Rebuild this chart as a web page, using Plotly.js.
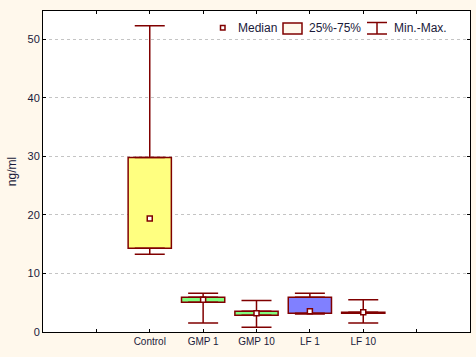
<!DOCTYPE html>
<html>
<head>
<meta charset="utf-8">
<script src="https://cdn.plot.ly/plotly-3.0.1.min.js"></script>
<style>html,body{margin:0;padding:0;background:#fff8ec;}#chart{width:476px;height:357px;}</style>
</head>
<body>
<div id="chart"></div>
<script>
// Data
var categories = ["Control", "GMP 1", "GMP 10", "LF 1", "LF 10"];
var minVals    = [13.3, 1.54, 0.80, 3.07, 1.54];
var q1Vals     = [14.3, 5.07, 2.85, 3.19, 3.19];
var medianVals = [19.4, 5.50, 3.20, 3.53, 3.36];
var q3Vals     = [29.8, 5.92, 3.53, 5.92, 3.36];
var maxVals    = [52.3, 6.60, 5.40, 6.60, 5.50];
var boxColors  = ["#ffff80", "#80ff80", "#80ff80", "#8080ff", "#ff8080"];
var legendLabels = ["Median", "25%-75%", "Min.-Max."];

var dark = "#800000";
var xPos = categories.map(function(c, i){ return i + 2; });
var tickVals = [1,2,3,4,5,6,7];
var tickText = [""].concat(categories).concat([""]);

var heights = q3Vals.map(function(v,i){ return v - q1Vals[i]; });
var upLen = maxVals.map(function(v,i){ return v - q3Vals[i]; });
var lowLen = q1Vals.map(function(v,i){ return v - minVals[i]; });
var zeros = categories.map(function(){ return 0; });

var traces = [
  {
    type: "bar", x: xPos, y: heights, base: q1Vals, width: 0.81,
    marker: {color: boxColors, line: {color: dark, width: 1.5}},
    hoverinfo: "skip"
  },
  {
    type: "scatter", mode: "markers", x: xPos, y: q3Vals,
    marker: {size: 4, color: dark, opacity: 0},
    error_y: {type: "data", symmetric: false, array: upLen, arrayminus: zeros,
              color: dark, thickness: 1.5, width: 15},
    hoverinfo: "skip"
  },
  {
    type: "scatter", mode: "markers", x: xPos, y: q1Vals,
    marker: {size: 4, color: dark, opacity: 0},
    error_y: {type: "data", symmetric: false, array: zeros, arrayminus: lowLen,
              color: dark, thickness: 1.5, width: 15},
    hoverinfo: "skip"
  },
  {
    type: "scatter", mode: "markers", x: xPos, y: medianVals,
    marker: {symbol: "square", size: 5, color: "#ffffff", line: {color: dark, width: 1.5}},
    hoverinfo: "skip"
  }
];

// legend drawn manually (pixel -> paper helpers)
var L = 43, R = 470, T = 11, B = 332;
function px(x){ return (x - L) / (R - L); }
function py(y){ return (B - y) / (B - T); }

var shapes = [
  {type: "rect", xref: "paper", yref: "paper", x0: px(220.5), x1: px(225), y0: py(30), y1: py(25.5),
   line: {color: dark, width: 1.5}, fillcolor: "#ffffff"},
  {type: "rect", xref: "paper", yref: "paper", x0: px(283), x1: px(302), y0: py(34), y1: py(23),
   line: {color: dark, width: 1.5}, fillcolor: "#fff8ec"},
  {type: "line", xref: "paper", yref: "paper", x0: px(367), x1: px(387), y0: py(22.5), y1: py(22.5),
   line: {color: dark, width: 1.5}},
  {type: "line", xref: "paper", yref: "paper", x0: px(377), x1: px(377), y0: py(22.5), y1: py(34),
   line: {color: dark, width: 1.5}},
  {type: "line", xref: "paper", yref: "paper", x0: px(367), x1: px(387), y0: py(34), y1: py(34),
   line: {color: dark, width: 1.5}}
];
var legX = [236, 307, 392];
var annotations = legendLabels.map(function(t, i){
  return {xref: "paper", yref: "paper", x: px(legX[i]), y: py(28.5), xanchor: "left", yanchor: "middle",
          text: t, showarrow: false, font: {family: "Liberation Sans, Arial, sans-serif", size: 12, color: "#1a1a3a"}};
});

var layout = {
  width: 476, height: 357,
  margin: {l: 43, r: 6, t: 11, b: 25, pad: 0},
  paper_bgcolor: "#fff8ec",
  plot_bgcolor: "#ffffff",
  showlegend: false,
  hovermode: false,
  font: {family: "Liberation Sans, Arial, sans-serif", size: 11, color: "#1a1a3a"},
  xaxis: {
    type: "linear", range: [0, 8], tickvals: tickVals, ticktext: tickText,
    ticks: "inside", ticklen: 3, tickcolor: "#000", showgrid: false, zeroline: false,
    showline: true, linecolor: "#000", linewidth: 1, mirror: "ticks",
    tickfont: {size: 10}
  },
  yaxis: {
    range: [0, 54.83], tickvals: [0,10,20,30,40,50],
    ticks: "inside", ticklen: 3, tickcolor: "#000",
    showgrid: true, gridcolor: "#c4c4c4", griddash: "dot", gridwidth: 1,
    zeroline: false, showline: true, linecolor: "#000", linewidth: 1, mirror: "ticks",
    title: {text: "ng/ml", font: {size: 12}, standoff: 8},
    tickfont: {size: 11}
  },
  shapes: shapes,
  annotations: annotations
};

Plotly.newPlot("chart", traces, layout, {staticPlot: true, displayModeBar: false});
</script>
</body>
</html>
